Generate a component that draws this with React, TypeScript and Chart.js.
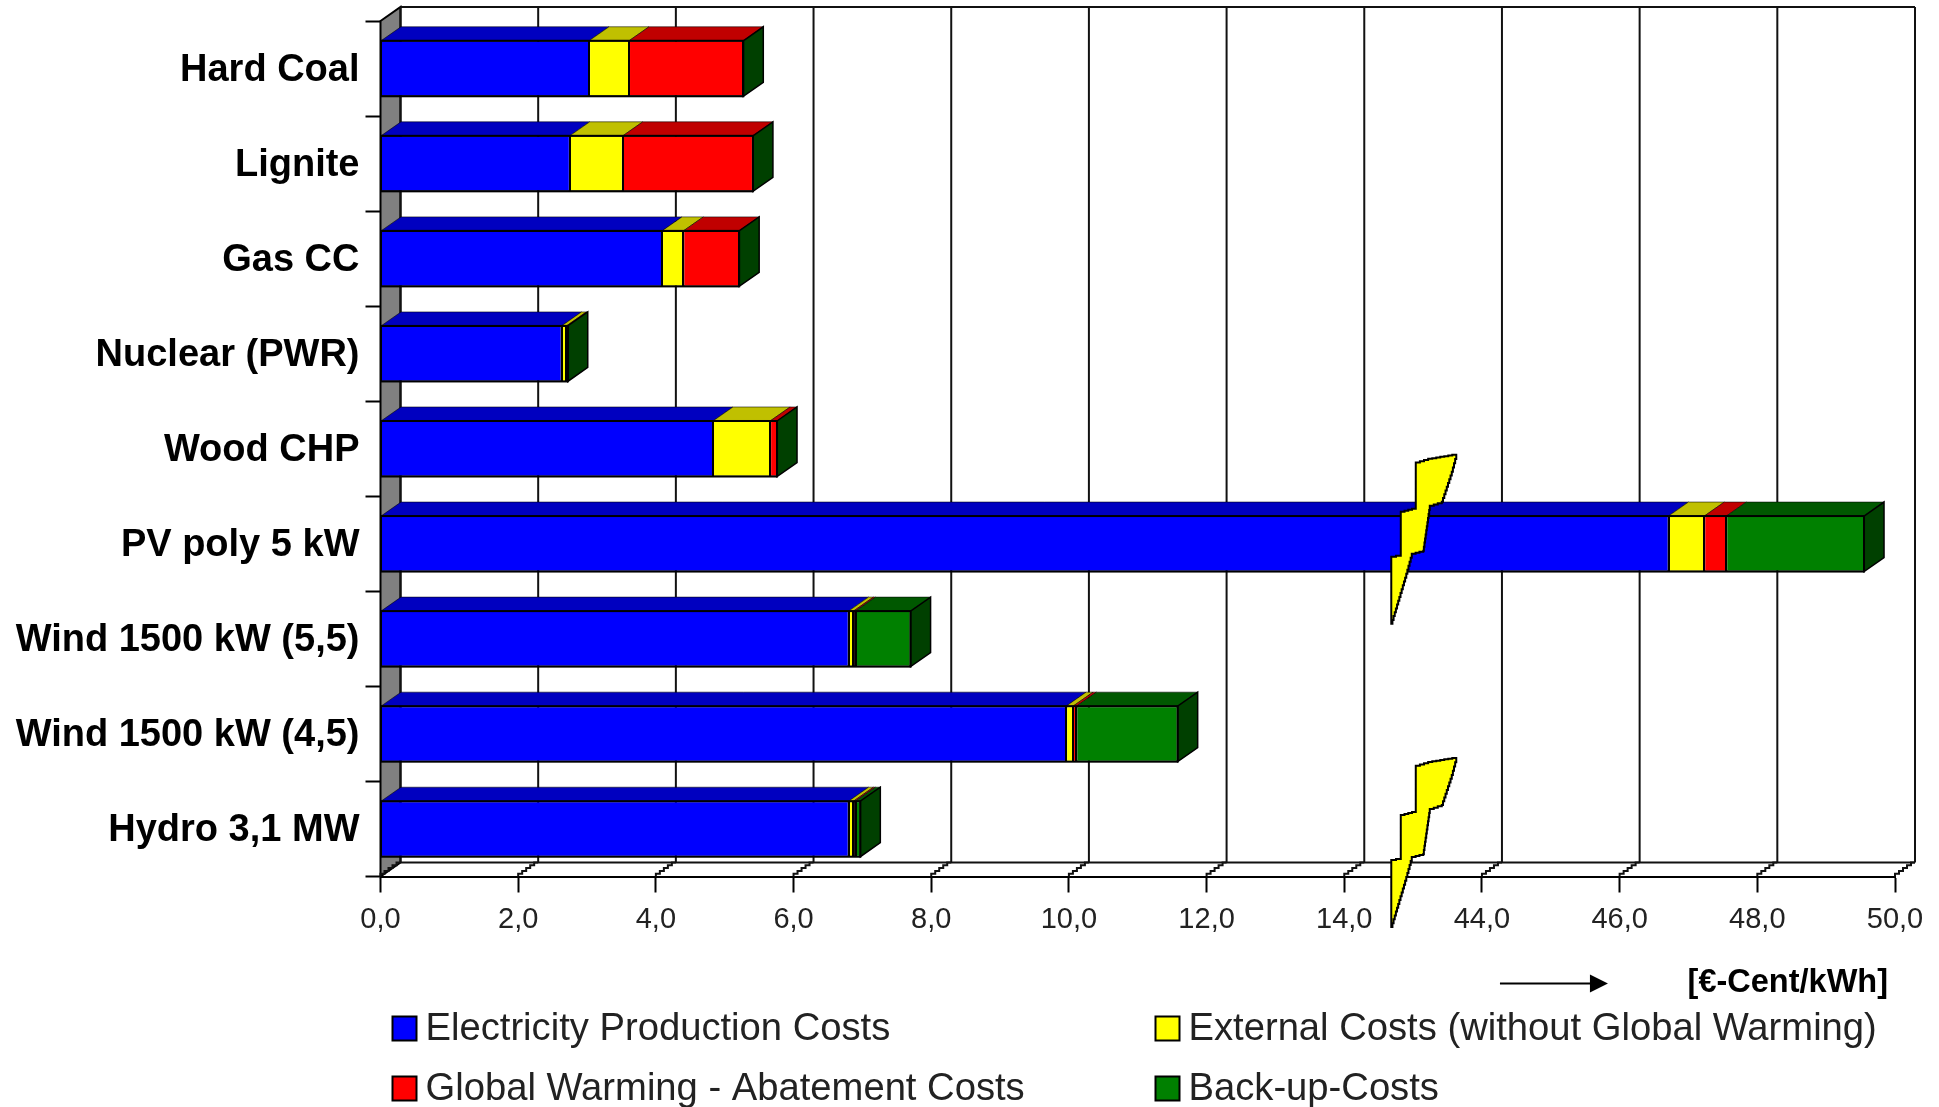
import React, { useEffect, useRef } from "react";
import { Chart, registerables, LinearScale, CategoryScale } from "chart.js";

const categories = [
  "Hard Coal",
  "Lignite",
  "Gas CC",
  "Nuclear (PWR)",
  "Wood CHP",
  "PV poly 5 kW",
  "Wind 1500 kW (5,5)",
  "Wind 1500 kW (4,5)",
  "Hydro 3,1 MW",
];
const productionCosts = [3.03, 2.75, 4.09, 2.63, 4.83, 46.71, 6.8, 9.96, 6.8];
const externalCosts = [0.58, 0.77, 0.31, 0.07, 0.83, 0.52, 0.07, 0.1, 0.07];
const abatementCosts = [1.66, 1.89, 0.81, 0.02, 0.1, 0.32, 0.03, 0.05, 0.03];
const backupCosts = [0, 0, 0, 0, 0, 2.0, 0.8, 1.47, 0.07];
const axisTicks = [0, 2, 4, 6, 8, 10, 12, 14, 44, 46, 48, 50];

// The value axis jumps from 14 to 44; that jump takes up one regular interval.
const BREAK_FROM = 14;
const BREAK_TO = 44;
const BREAK_SPAN = 2;
const condense = (v: number) =>
  v <= BREAK_FROM ? v : v >= BREAK_TO ? v - (BREAK_TO - BREAK_FROM) + BREAK_SPAN : BREAK_FROM + BREAK_SPAN * ((v - BREAK_FROM) / (BREAK_TO - BREAK_FROM));

class BrokenLinearScale extends LinearScale {
  static id = "brokenLinear";
  configure() {
    super.configure();
    (this as any)._valueRange = condense((this as any).max) - condense((this as any).min);
  }
  getPixelForValue(value: number) {
    return super.getPixelForValue(condense(value));
  }
}

// Category axis whose labels sit slightly below the band centre.
class LoweredLabelScale extends CategoryScale {
  static id = "loweredLabels";
  _computeLabelItems(area: any) {
    const items: any[] = super._computeLabelItems(area);
    return items.map((item: any) => ({
      ...item,
      options: {
        ...item.options,
        translation: [item.options.translation[0], item.options.translation[1] + 2],
      },
    }));
  }
}

Chart.register(...registerables, BrokenLinearScale, LoweredLabelScale);

const FONT = '"Liberation Sans", Arial, sans-serif';
const DEPTH_X = 20;
const DEPTH_Y = 14;

const FRONT = ["#0000ff", "#ffff00", "#ff0000", "#008000"];
const TOP = ["#0000c0", "#c0c000", "#c00000", "#005800"];
const SIDE = "#004000";
const WALL = "#808080";

// Outline of the lightning bolt that flags the axis break, relative to its anchor.
const BOLT = [
  [0, 85], [0, 19], [9.5, 17], [9.5, -26], [24.5, -30], [24.5, -75], [41, -80], [65, -84],
  [60.5, -67], [50.5, -37], [38.5, -33], [32, 12], [20.5, 15], [15, 35],
];

// Turns sloped edges into small pixel steps, the way the bolt and floor marks are rendered.
function staircase(pts: number[][], step: number, closed: boolean) {
  const out: number[][] = [];
  const count = closed ? pts.length : pts.length - 1;
  for (let i = 0; i < count; i++) {
    const [x0, y0] = pts[i];
    const [x1, y1] = pts[(i + 1) % pts.length];
    const n = Math.max(1, Math.round(Math.max(Math.abs(x1 - x0), Math.abs(y1 - y0)) / step));
    let px = x0;
    out.push([px, y0]);
    for (let j = 1; j <= n; j++) {
      const nx = x0 + ((x1 - x0) * j) / n;
      const ny = y0 + ((y1 - y0) * j) / n;
      out.push([px, ny]);
      out.push([nx, ny]);
      px = nx;
    }
  }
  return out;
}

function polygon(ctx: CanvasRenderingContext2D, pts: number[][], fill: string, stroke: string, width: number) {
  ctx.beginPath();
  pts.forEach(([x, y], i) => (i ? ctx.lineTo(x, y) : ctx.moveTo(x, y)));
  ctx.closePath();
  ctx.fillStyle = fill;
  ctx.fill();
  ctx.strokeStyle = stroke;
  ctx.lineWidth = width;
  ctx.stroke();
}

function line(ctx: CanvasRenderingContext2D, x0: number, y0: number, x1: number, y1: number) {
  ctx.beginPath();
  ctx.moveTo(x0, y0);
  ctx.lineTo(x1, y1);
  ctx.stroke();
}

const perspectivePlugin = {
  id: "perspective",
  beforeDatasetsDraw(chart: any) {
    const { ctx, chartArea: a, scales } = chart;
    ctx.save();

    // Left wall
    polygon(
      ctx,
      [[a.left, a.top], [a.left + DEPTH_X, a.top - DEPTH_Y], [a.left + DEPTH_X, a.bottom - DEPTH_Y], [a.left, a.bottom]],
      WALL, "#000", 2
    );

    // Back wall: grid lines, floor edges and outer frame
    ctx.strokeStyle = "#111";
    ctx.lineWidth = 2;
    line(ctx, a.left + DEPTH_X, a.top - DEPTH_Y, a.right + DEPTH_X, a.top - DEPTH_Y);
    line(ctx, a.left + DEPTH_X, a.bottom - DEPTH_Y, a.right + DEPTH_X, a.bottom - DEPTH_Y);
    axisTicks.forEach((v) => {
      const x = scales.x.getPixelForValue(v);
      line(ctx, x + DEPTH_X, a.top - DEPTH_Y, x + DEPTH_X, a.bottom - DEPTH_Y);
      const floor = staircase([[x, a.bottom], [x + DEPTH_X, a.bottom - DEPTH_Y]], 4, false);
      ctx.beginPath();
      floor.forEach(([px, py], i) => (i ? ctx.lineTo(px, py) : ctx.moveTo(px, py)));
      ctx.stroke();
    });

    // Top faces of each stack, then the closing side face
    const metas = chart.data.datasets.map((_: any, i: number) => chart.getDatasetMeta(i));
    categories.forEach((_, row) => {
      metas.forEach((meta: any, d: number) => {
        const bar = meta.data[row];
        const top = bar.y - bar.height / 2;
        if (bar.x - bar.base < 0.01) return;
        polygon(
          ctx,
          [[bar.base, top], [bar.x, top], [bar.x + DEPTH_X, top - DEPTH_Y], [bar.base + DEPTH_X, top - DEPTH_Y]],
          TOP[d], "rgba(0,0,0,0.55)", 1
        );
      });
      const end = metas[metas.length - 1].data[row];
      const top = end.y - end.height / 2;
      const bottom = end.y + end.height / 2;
      polygon(
        ctx,
        [[end.x, top], [end.x + DEPTH_X, top - DEPTH_Y], [end.x + DEPTH_X, bottom - DEPTH_Y], [end.x, bottom]],
        SIDE, "#000", 1.5
      );
    });
    ctx.restore();
  },
  afterDatasetsDraw(chart: any) {
    const { ctx, chartArea: a, scales } = chart;
    ctx.save();

    // Heavier outline round each whole stack, and crisp seams between its segments
    const metas = chart.data.datasets.map((_: any, i: number) => chart.getDatasetMeta(i));
    categories.forEach((_, row) => {
      const first = metas[0].data[row];
      const last = metas[metas.length - 1].data[row];
      const top = first.y - first.height / 2;
      ctx.strokeStyle = "#000";
      ctx.lineWidth = 2;
      ctx.strokeRect(first.base, top, last.x - first.base, first.height);
      metas.slice(0, -1).forEach((meta: any) => {
        const seam = Math.round(meta.data[row].x);
        line(ctx, seam, top, seam, top + first.height);
      });
    });

    // Break markers: one across the long bar, one across the axis
    const boltX = scales.x.getPixelForValue(BREAK_FROM) + 47;
    const barRow = productionCosts.indexOf(Math.max(...productionCosts));
    const anchors = [scales.y.getPixelForValue(barRow) - 5, a.bottom - 34.5];
    anchors.forEach((y) => {
      const outline = staircase(BOLT.map(([px, py]) => [boltX + px, y + py]), 4, true);
      polygon(ctx, outline, "#ffff00", "#000", 2);
    });

    // Unit arrow and label
    const unitY = a.bottom + 107;
    const arrowStart = scales.x.getPixelForValue(44) + 18;
    ctx.strokeStyle = "#000";
    ctx.lineWidth = 2;
    line(ctx, arrowStart, unitY, arrowStart + 92, unitY);
    ctx.fillStyle = "#000";
    ctx.beginPath();
    ctx.moveTo(arrowStart + 108, unitY);
    ctx.lineTo(arrowStart + 90, unitY - 9);
    ctx.lineTo(arrowStart + 90, unitY + 9);
    ctx.closePath();
    ctx.fill();
    ctx.font = `bold 32.5px ${FONT}`;
    ctx.textAlign = "right";
    ctx.textBaseline = "middle";
    ctx.fillText("[€-Cent/kWh]", a.right - 7, unitY);

    // Two-column legend, filled row by row
    const columns = [a.left + 12, a.left + 775];
    const rows = [a.bottom + 152, a.bottom + 212];
    chart.data.datasets.forEach((ds: any, i: number) => {
      const x = columns[i % 2];
      const y = rows[Math.floor(i / 2)];
      ctx.fillStyle = FRONT[i];
      ctx.strokeStyle = "#000";
      ctx.lineWidth = 2;
      ctx.fillRect(x, y - 12, 24, 24);
      ctx.strokeRect(x, y - 12, 24, 24);
      ctx.fillStyle = "#222";
      ctx.font = `38.2px ${FONT}`;
      ctx.textAlign = "left";
      ctx.textBaseline = "middle";
      ctx.fillText(ds.label, x + 33, y + 1);
    });
    ctx.restore();
  },
};

export default function App() {
  const ref = useRef<HTMLCanvasElement>(null);

  useEffect(() => {
    const series = [productionCosts, externalCosts, abatementCosts, backupCosts];
    const labels = [
      "Electricity Production Costs",
      "External Costs (without Global Warming)",
      "Global Warming - Abatement Costs",
      "Back-up-Costs",
    ];
    const chart = new Chart(ref.current as HTMLCanvasElement, {
      type: "bar",
      data: {
        labels: categories,
        datasets: series.map((data, i) => ({
          label: labels[i],
          data,
          backgroundColor: FRONT[i],
          borderColor: "#000",
          borderWidth: 1,
          borderSkipped: false,
          barPercentage: 1,
          categoryPercentage: 0.584,
        })),
      },
      options: {
        indexAxis: "y",
        responsive: false,
        animation: false,
        layout: { padding: { top: 21, right: 44, bottom: 0, left: 0 } },
        plugins: { legend: { display: false }, tooltip: { enabled: false } },
        scales: {
          x: {
            type: "brokenLinear",
            stacked: true,
            min: 0,
            max: 50,
            afterFit: (s: any) => { s.height = 230.5; },
            afterBuildTicks: (s: any) => { s.ticks = axisTicks.map((value) => ({ value })); },
            border: { color: "#000", width: 2 },
            grid: { drawOnChartArea: false, drawTicks: true, tickLength: 16, tickColor: "#000", tickWidth: 2 },
            ticks: {
              autoSkip: false,
              maxRotation: 0,
              padding: 10,
              color: "#222",
              font: { family: FONT, size: 29 },
              callback: (v: any) => Number(v).toFixed(1).replace(".", ","),
            },
          },
          y: {
            type: "loweredLabels",
            stacked: true,
            afterFit: (s: any) => { s.width = 380.5; s.paddingTop = 0; s.paddingBottom = 0; },
            border: { color: "#000", width: 2 },
            grid: { drawOnChartArea: false, drawTicks: true, tickLength: 15, tickColor: "#000", tickWidth: 2, offset: true },
            ticks: {
              autoSkip: false,
              padding: 6,
              color: "#000",
              font: { family: FONT, size: 38, weight: "bold" },
            },
          },
        },
      } as any,
      plugins: [perspectivePlugin],
    } as any);
    return () => chart.destroy();
  }, []);

  return (
    <div style={{ position: "absolute", left: 0, top: 0, width: 1939, height: 1107, background: "#fff" }}>
      <canvas ref={ref} width={1939} height={1107} style={{ display: "block" }} />
    </div>
  );
}
